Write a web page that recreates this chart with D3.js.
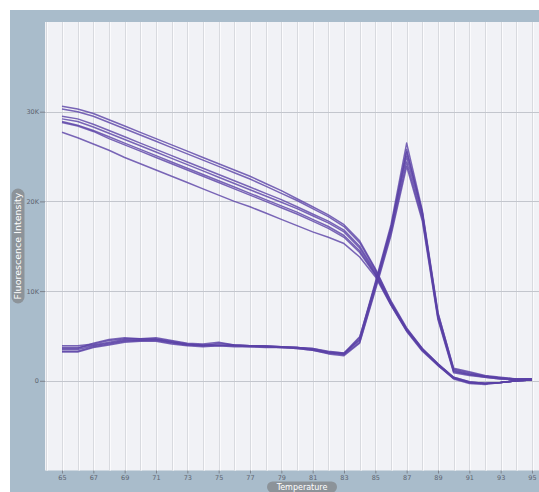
<!DOCTYPE html>
<html>
<head>
<meta charset="utf-8">
<script src="https://cdn.jsdelivr.net/npm/d3@7"></script>
<style>
  html, body { margin: 0; padding: 0; background: #fff; }
  svg { display: block; }
  .tick text { font-family: "DejaVu Sans", sans-serif; font-size: 6.5px; fill: #5d6470; }
</style>
</head>
<body>
<svg id="chart" width="539" height="492"></svg>
<script>
// temperatures (deg C), one reading per degree
var temps = d3.range(65, 96);

// melt curves (fluorescence, K)
var meltA = [30.6, 30.3, 29.8, 29.1, 28.4, 27.7, 27.0, 26.3, 25.6, 24.9, 24.2, 23.5, 22.8, 22.0, 21.2, 20.3, 19.4, 18.5, 17.4, 15.6, 12.5, 8.9, 5.9, 3.6, 1.9, 0.4, -0.1, -0.3, -0.2, 0.0, 0.1];
var meltA2 = [30.3, 30.0, 29.5, 28.8, 28.1, 27.4, 26.7, 26.0, 25.3, 24.6, 23.9, 23.2, 22.5, 21.7, 20.9, 20.1, 19.2, 18.3, 17.2, 15.4, 12.4, 8.8, 5.8, 3.6, 1.9, 0.4, -0.1, -0.3, -0.2, 0.0, 0.1];
var meltB = [29.5, 29.2, 28.6, 27.9, 27.2, 26.5, 25.8, 25.1, 24.4, 23.7, 23.0, 22.3, 21.6, 20.9, 20.2, 19.4, 18.6, 17.8, 16.8, 15.0, 12.2, 8.7, 5.7, 3.5, 1.8, 0.3, -0.2, -0.3, -0.2, 0.0, 0.1];
var meltC = [29.2, 28.9, 28.3, 27.6, 26.9, 26.2, 25.5, 24.8, 24.1, 23.4, 22.7, 22.0, 21.3, 20.6, 19.9, 19.2, 18.4, 17.6, 16.6, 14.8, 12.0, 8.6, 5.7, 3.5, 1.8, 0.3, -0.2, -0.3, -0.2, 0.0, 0.1];
var meltD = [28.9, 28.5, 27.9, 27.2, 26.5, 25.8, 25.1, 24.4, 23.7, 23.0, 22.3, 21.6, 20.9, 20.2, 19.5, 18.8, 18.0, 17.2, 16.2, 14.5, 11.9, 8.5, 5.6, 3.4, 1.8, 0.3, -0.2, -0.3, -0.2, 0.0, 0.1];
var meltE = [28.8, 28.4, 27.8, 27.0, 26.3, 25.6, 24.9, 24.2, 23.5, 22.8, 22.1, 21.4, 20.7, 20.0, 19.3, 18.6, 17.8, 17.0, 16.0, 14.3, 11.8, 8.5, 5.6, 3.4, 1.7, 0.3, -0.2, -0.3, -0.2, 0.0, 0.1];
var meltF = [27.7, 27.1, 26.4, 25.7, 24.9, 24.2, 23.5, 22.8, 22.1, 21.4, 20.7, 20.0, 19.4, 18.7, 18.0, 17.3, 16.6, 16.0, 15.3, 13.8, 11.6, 8.4, 5.5, 3.3, 1.7, 0.2, -0.3, -0.4, -0.2, 0.0, 0.1];

// derivative curves (K)
var derivA = [3.9, 3.9, 4.1, 4.5, 4.7, 4.7, 4.7, 4.4, 4.1, 4.0, 4.0, 4.0, 3.9, 3.9, 3.8, 3.7, 3.6, 3.2, 3.0, 4.8, 11.0, 17.4, 26.5, 19.0, 7.6, 1.3, 0.9, 0.5, 0.3, 0.2, 0.2];
var derivB = [3.7, 3.7, 4.0, 4.3, 4.6, 4.6, 4.6, 4.3, 4.1, 3.9, 4.2, 4.0, 3.9, 3.8, 3.8, 3.7, 3.5, 3.2, 3.1, 4.6, 10.8, 17.1, 25.8, 18.7, 7.3, 1.2, 0.8, 0.5, 0.3, 0.2, 0.2];
var derivC = [3.5, 3.5, 3.9, 4.2, 4.5, 4.5, 4.6, 4.3, 4.0, 4.0, 4.0, 3.9, 3.9, 3.8, 3.7, 3.7, 3.5, 3.1, 3.0, 4.5, 10.5, 16.8, 25.0, 18.4, 7.1, 1.1, 0.7, 0.5, 0.3, 0.2, 0.2];
var derivD = [3.3, 3.3, 3.8, 4.1, 4.4, 4.5, 4.5, 4.2, 4.0, 3.9, 3.9, 3.9, 3.8, 3.8, 3.7, 3.6, 3.4, 3.1, 2.9, 4.3, 10.3, 16.5, 24.4, 18.1, 7.0, 1.0, 0.7, 0.4, 0.2, 0.1, 0.2];
var derivE = [3.2, 3.2, 3.7, 4.0, 4.3, 4.4, 4.4, 4.1, 3.9, 3.8, 3.9, 3.8, 3.8, 3.7, 3.7, 3.6, 3.4, 3.0, 2.8, 4.2, 10.1, 16.2, 23.9, 17.8, 6.8, 0.9, 0.6, 0.4, 0.2, 0.1, 0.2];
var derivF = [3.6, 3.6, 4.2, 4.6, 4.8, 4.7, 4.8, 4.5, 4.2, 4.1, 4.3, 4.0, 3.9, 3.9, 3.8, 3.7, 3.6, 3.3, 3.1, 4.9, 10.7, 17.0, 25.5, 18.8, 7.5, 1.4, 1.0, 0.6, 0.4, 0.2, 0.2];

var series = [meltA, meltA2, meltB, meltC, meltD, meltE, meltF,
  derivA, derivB, derivC, derivD, derivE, derivF];

var xTicks = d3.range(65, 96, 2);
var yTicks = [0, 10000, 20000, 30000];
var yTickLabels = ['0', '10K', '20K', '30K'];

var svg = d3.select('#chart');
var plot = { left: 45, right: 539, top: 22, bottom: 470.5 };

var x = d3.scaleLinear().domain([63.915, 95.447]).range([plot.left, plot.right]);
var y = d3.scaleLinear().domain([-10000, 40000]).range([plot.bottom, plot.top]);

// frame
svg.append('rect').attr('x', 10).attr('y', 10).attr('width', 529).attr('height', 482).attr('fill', '#a9bccb');
svg.append('rect')
  .attr('x', plot.left).attr('y', plot.top)
  .attr('width', plot.right - plot.left).attr('height', plot.bottom - plot.top)
  .attr('fill', '#f1f2f6');

// vertical grid, one per degree
var vgrid = svg.append('g');
d3.range(64, 96).forEach(function(t) {
  var px = Math.round(x(t)) + 0.5;
  vgrid.append('line').attr('x1', px).attr('x2', px).attr('y1', plot.top).attr('y2', plot.bottom)
    .attr('stroke', '#d8dadf').attr('stroke-width', 1);
  vgrid.append('line').attr('x1', px + 1).attr('x2', px + 1).attr('y1', plot.top).attr('y2', plot.bottom)
    .attr('stroke', '#fbfbfd').attr('stroke-width', 1);
});

// horizontal grid
svg.append('g').selectAll('line').data(yTicks).join('line')
  .attr('x1', plot.left).attr('x2', plot.right)
  .attr('y1', function(d) { return Math.round(y(d)) + 0.5; })
  .attr('y2', function(d) { return Math.round(y(d)) + 0.5; })
  .attr('stroke', '#c3c6cd').attr('stroke-width', 1);

// axes
var xAxis = svg.append('g')
  .attr('transform', 'translate(0,' + plot.bottom + ')')
  .call(d3.axisBottom(x).tickValues(xTicks).tickSize(3).tickPadding(2).tickFormat(d3.format('d')));
var yAxis = svg.append('g')
  .attr('transform', 'translate(' + plot.left + ',0)')
  .call(d3.axisLeft(y).tickValues(yTicks).tickSize(5).tickPadding(1)
    .tickFormat(function(d, i) { return yTickLabels[i]; }));
[xAxis, yAxis].forEach(function(a) {
  a.select('.domain').remove();
  a.selectAll('.tick line').attr('stroke', '#7d838d');
});

// curves
var line = d3.line()
  .x(function(d, i) { return x(temps[i]); })
  .y(function(d) { return y(d * 1000); });

var curves = svg.append('g');
series.forEach(function(s) {
  curves.append('path').datum(s)
    .attr('d', line)
    .attr('fill', 'none')
    .attr('stroke', '#5a41a6')
    .attr('stroke-width', 1.5)
    .attr('stroke-opacity', 0.8)
    .attr('stroke-linejoin', 'round');
});

// axis title pills
function pill(cx, cy, w, h, text, rotate, fs) {
  var g = svg.append('g').attr('transform', 'translate(' + cx + ',' + cy + ')' + (rotate ? ' rotate(-90)' : ''));
  g.append('rect').attr('x', -w / 2).attr('y', -h / 2).attr('width', w).attr('height', h)
    .attr('rx', h / 2).attr('fill', '#8c9399');
  g.append('text').attr('text-anchor', 'middle').attr('dy', '0.33em')
    .attr('font-family', '"DejaVu Sans", sans-serif').attr('font-size', fs)
    .attr('fill', '#ffffff').text(text);
}
pill(18, 246, 115, 13, 'Fluorescence Intensity', true, 9.5);
pill(302, 487, 70, 11, 'Temperature', false, 8);
</script>
</body>
</html>
